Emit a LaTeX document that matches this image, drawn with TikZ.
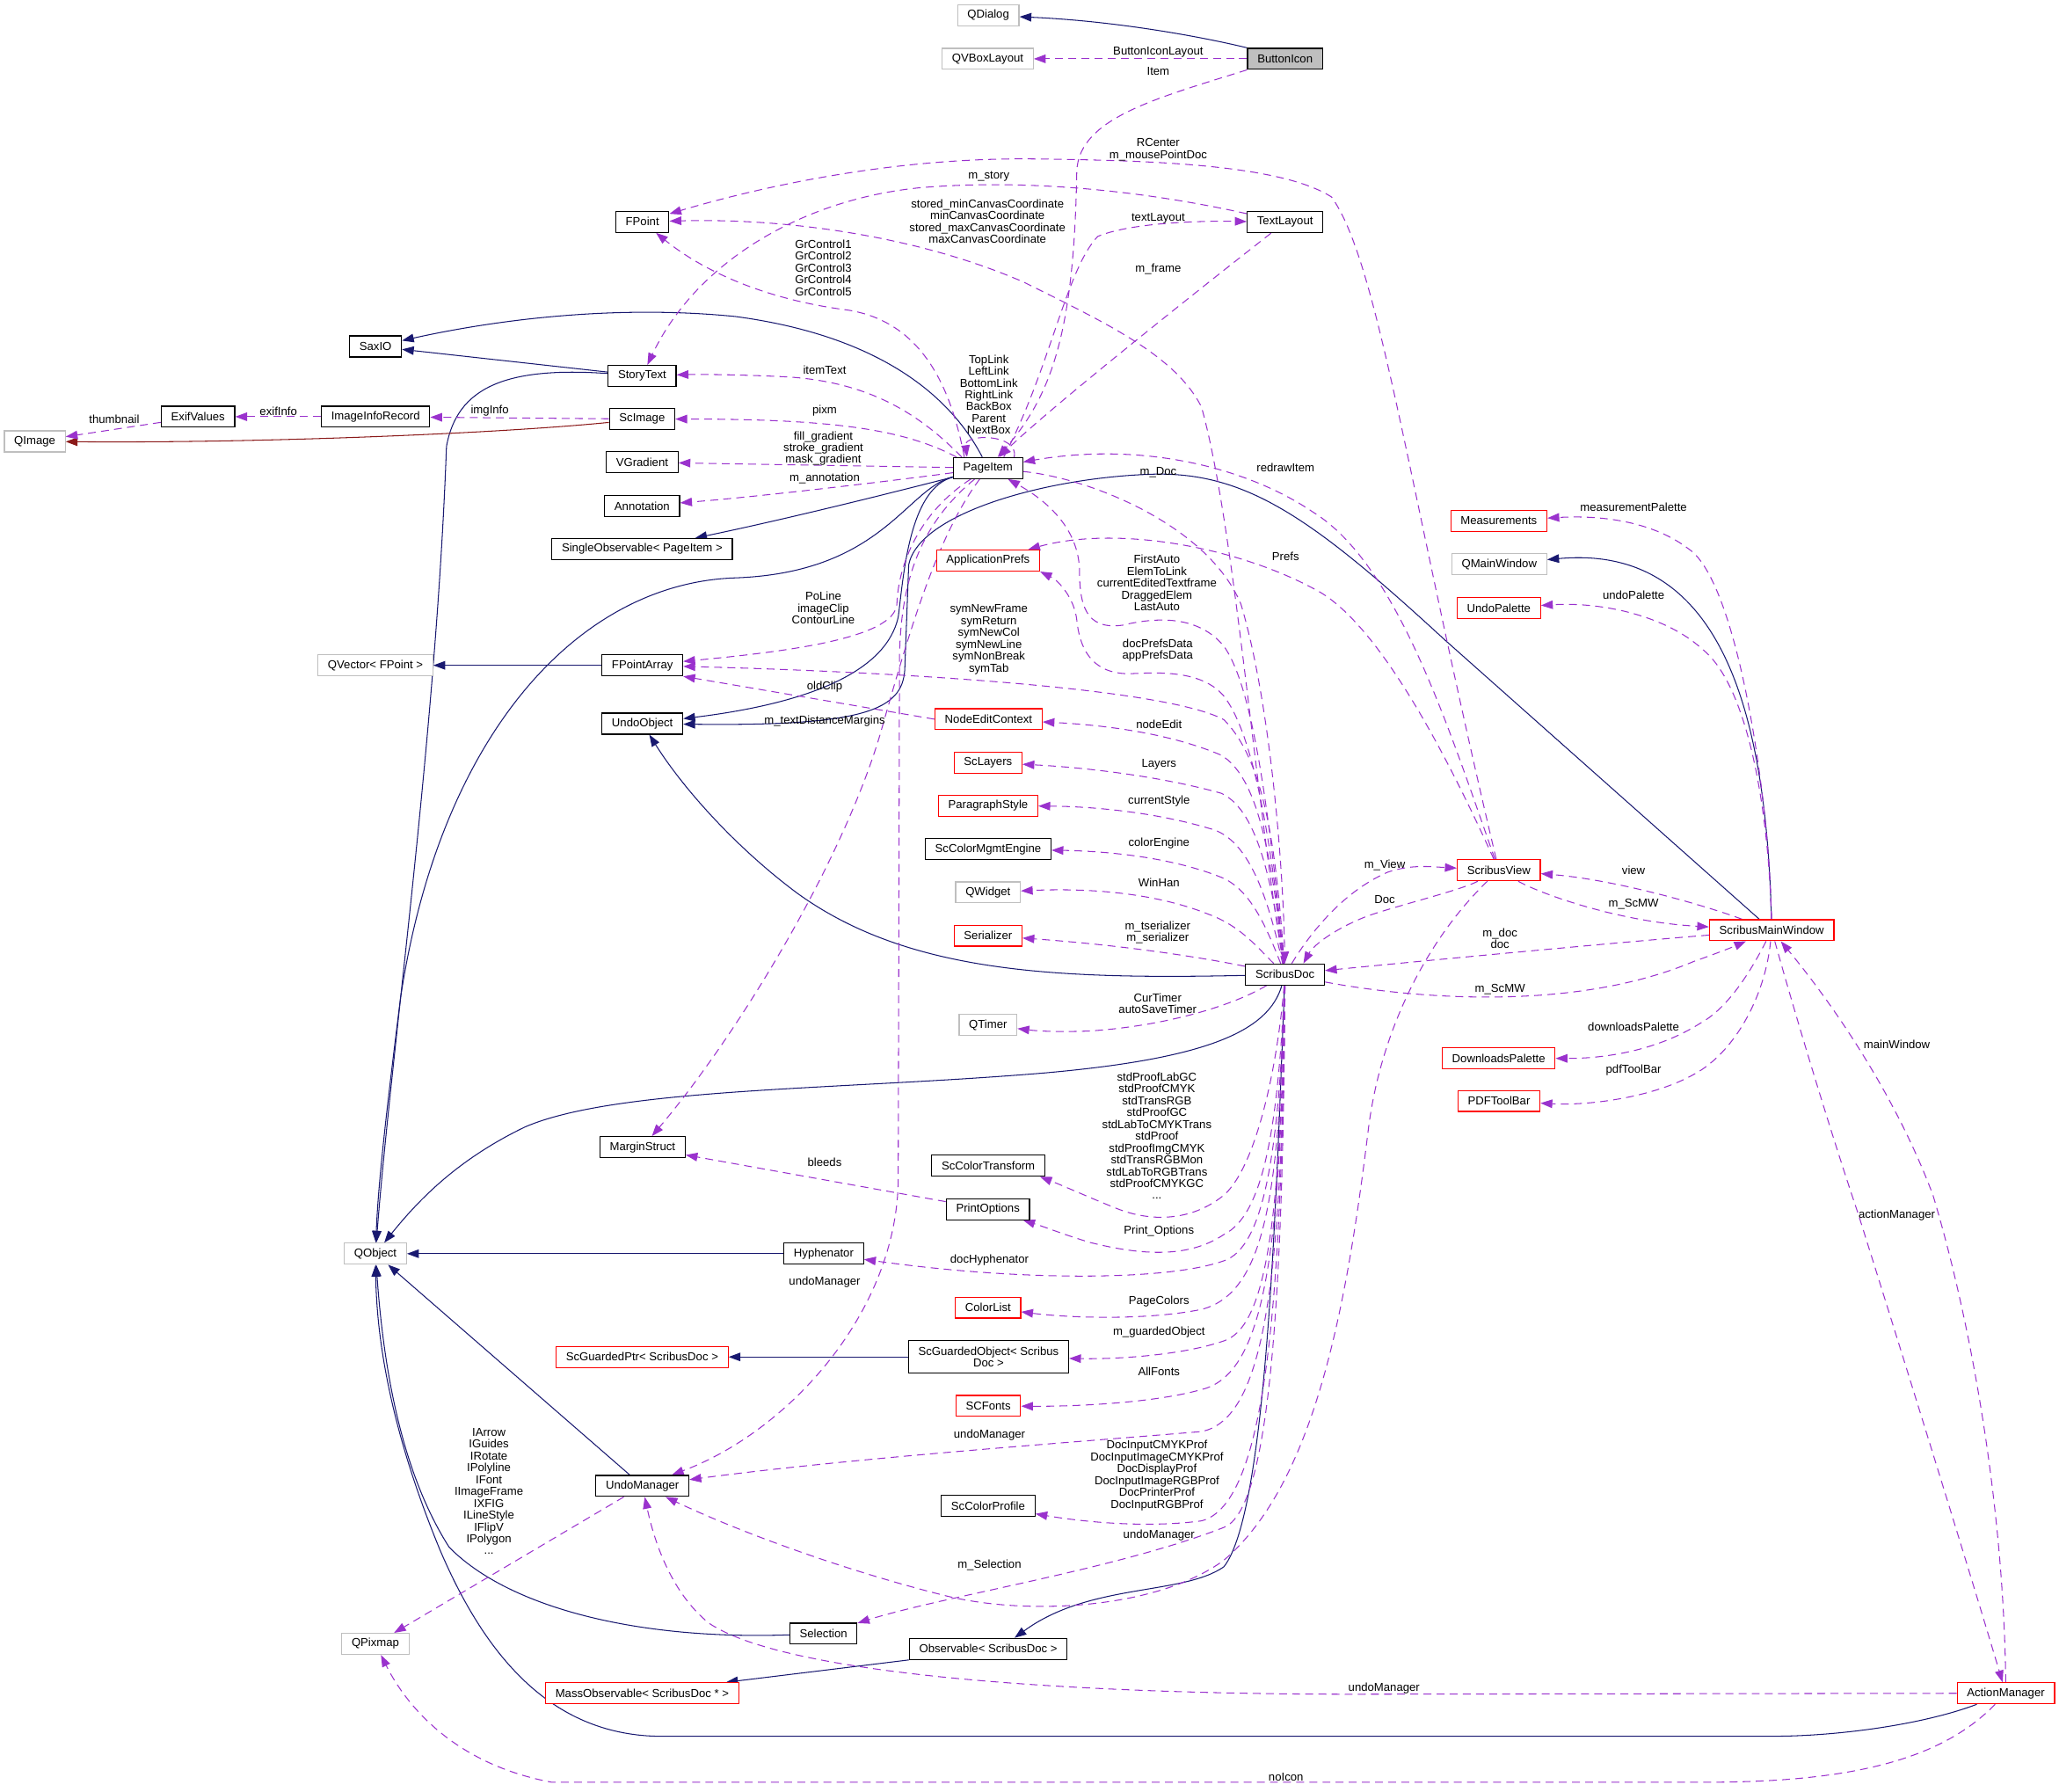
\documentclass[tikz,border=0pt]{standalone}
\usepackage{fontspec}
\setmainfont{Liberation Sans}
\usetikzlibrary{arrows.meta,backgrounds}
\definecolor{edgeblue}{HTML}{191970}
\definecolor{edgepurple}{HTML}{9A32CD}
\definecolor{edgered}{HTML}{8B1A1A}
\definecolor{boxgrey}{HTML}{BFBFBF}
\newcommand{\dxfont}{\fontsize{8.8}{9}\selectfont}
\begin{document}
\begin{tikzpicture}[x=1pt, y=-1pt, >={Triangle[length=9pt,width=6.5pt]},
  classbox/.style={draw=black, fill=white, line width=0.8pt, font=\dxfont, align=center,
    minimum height=16pt, inner xsep=7.5pt, inner ysep=2pt},
  extbox/.style={classbox, draw=boxgrey},
  redbox/.style={classbox, draw=red},
  rootbox/.style={classbox, fill=boxgrey},
  inherit/.style={->, edgeblue, line width=0.7pt},
  redinherit/.style={->, edgered, line width=0.7pt},
  member/.style={->, edgepurple, line width=0.7pt, dash pattern=on 6pt off 4pt},
  elabel/.style={font=\dxfont, align=center, inner sep=0pt}]
\useasboundingbox (0,0) rectangle (1568,1364);
%\draw [help lines] (0,0) grid[step=100] (1568,1364);
% classes
\node[extbox] (QDialog) at (752.6,11.7) {QDialog};
\node[extbox] (QVBoxLayout) at (752.2,44.8) {QVBoxLayout};
\node[rootbox] (ButtonIcon) at (978.6,44.8) {ButtonIcon};
\node[classbox] (FPoint) at (489.2,168.9) {FPoint};
\node[classbox] (TextLayout) at (978.6,169.2) {TextLayout};
\node[classbox] (SaxIO) at (286,263.8) {SaxIO};
\node[classbox] (StoryText) at (489,286.2) {StoryText};
\node[extbox] (QImage) at (26.5,336.1) {QImage};
\node[classbox] (ExifValues) at (150.8,317.3) {ExifValues};
\node[classbox] (ImageInfoRecord) at (286,317.3) {ImageInfoRecord};
\node[classbox] (ScImage) at (489,319.1) {ScImage};
\node[classbox] (VGradient) at (489,352) {VGradient};
\node[classbox] (Annotation) at (489,385.2) {Annotation};
\node[classbox] (SingleObs) at (489,418.1) {SingleObservable< PageItem >};
\node[classbox] (PageItem) at (752.4,356.4) {PageItem};
\node[redbox] (AppPrefs) at (752.4,426.8) {ApplicationPrefs};
\node[extbox] (QVector) at (285.9,506.6) {QVector< FPoint >};
\node[classbox] (FPointArray) at (489.2,506.6) {FPointArray};
\node[classbox] (UndoObject) at (489.2,551) {UndoObject};
\node[redbox] (NodeEdit) at (752.8,547.6) {NodeEditContext};
\node[redbox] (ScLayers) at (752.4,580.6) {ScLayers};
\node[redbox] (ParaStyle) at (752.5,613.5) {ParagraphStyle};
\node[classbox] (ColorEngine) at (752.5,646.6) {ScColorMgmtEngine};
\node[extbox] (QWidget) at (752.4,679.5) {QWidget};
\node[redbox] (Serializer) at (752.4,712.4) {Serializer};
\node[classbox] (ScribusDoc) at (978.6,742) {ScribusDoc};
\node[extbox] (QTimer) at (752.4,780.5) {QTimer};
\node[classbox] (MarginStruct) at (489.3,873.5) {MarginStruct};
\node[classbox] (ColorTransform) at (752.6,887.6) {ScColorTransform};
\node[classbox] (PrintOptions) at (752.3,920.7) {PrintOptions};
\node[extbox] (QObject) at (285.9,954.6) {QObject};
\node[classbox] (Hyphenator) at (627.3,954.6) {Hyphenator};
\node[redbox] (ColorList) at (752.4,995.6) {ColorList};
\node[redbox] (GuardedPtr) at (489,1033.2) {ScGuardedPtr< ScribusDoc >};
\node[classbox, minimum height=25pt] (GuardedObj) at (752.8,1033.2) {ScGuardedObject< Scribus\\Doc >};
\node[redbox] (SCFonts) at (752.6,1070.5) {SCFonts};
\node[classbox] (UndoManager) at (489.2,1131.4) {UndoManager};
\node[classbox] (ColorProfile) at (752.5,1146.5) {ScColorProfile};
\node[extbox] (QPixmap) at (285.9,1251.7) {QPixmap};
\node[classbox] (Selection) at (627.1,1243.9) {Selection};
\node[classbox] (Observable) at (752.6,1255.5) {Observable< ScribusDoc >};
\node[redbox] (MassObs) at (489,1289.3) {MassObservable< ScribusDoc * >};
\node[redbox] (ScribusView) at (1141.4,662.6) {ScribusView};
\node[redbox] (MainWindow) at (1349.2,708.3) {ScribusMainWindow};
\node[redbox] (Measurements) at (1141.4,396.6) {Measurements};
\node[extbox] (QMainWindow) at (1141.7,429.5) {QMainWindow};
\node[redbox] (UndoPalette) at (1141.4,463) {UndoPalette};
\node[redbox] (Downloads) at (1141.3,805.7) {DownloadsPalette};
\node[redbox] (PDFToolBar) at (1141.5,838.3) {PDFToolBar};
\node[redbox] (ActionManager) at (1527.5,1289.3) {ActionManager};
% edge labels
\node[elabel] (lLayout) at (882,40) {ButtonIconLayout};
\node[elabel] (lItem) at (882,54) {Item};
\node[elabel] (lCenter) at (882,114) {RCenter\\m\_mousePointDoc};
\node[elabel] (lStory) at (753,134) {m\_story};
\node[elabel] (lCanvas) at (752,168.5) {stored\_minCanvasCoordinate\\minCanvasCoordinate\\stored\_maxCanvasCoordinate\\maxCanvasCoordinate};
\node[elabel] (lTextLayout) at (882,166) {textLayout};
\node[elabel] (lFrame) at (882,205) {m\_frame};
\node[elabel] (lGrControl) at (627,204) {GrControl1\\GrControl2\\GrControl3\\GrControl4\\GrControl5};
\node[elabel] (lItemText) at (628,282) {itemText};
\node[elabel] (lLinks) at (753,300.5) {TopLink\\LeftLink\\BottomLink\\RightLink\\BackBox\\Parent\\NextBox};
\node[elabel] (lPixm) at (628,313) {pixm};
\node[elabel] (lGradient) at (627,341.5) {fill\_gradient\\stroke\_gradient\\mask\_gradient};
\node[elabel] (lAnnot) at (628,364) {m\_annotation};
\node[elabel] (lDoc) at (882,360) {m\_Doc};
\node[elabel] (lRedraw) at (979,356) {redrawItem};
\node[elabel] (lPrefs) at (979,424) {Prefs};
\node[elabel] (lAuto) at (881,444) {FirstAuto\\ElemToLink\\currentEditedTextframe\\DraggedElem\\LastAuto};
\node[elabel] (lClip) at (627,463) {PoLine\\imageClip\\ContourLine};
\node[elabel] (lSym) at (753,487) {symNewFrame\\symReturn\\symNewCol\\symNewLine\\symNonBreak\\symTab};
\node[elabel] (lPrefsData) at (881.6,495) {docPrefsData\\appPrefsData};
\node[elabel] (lOldClip) at (628,523) {oldClip};
\node[elabel] (lMargins) at (628,549) {m\_textDistanceMargins};
\node[elabel] (lNodeEdit) at (882.6,551.5) {nodeEdit};
\node[elabel] (lLayers) at (882.6,582.3) {Layers};
\node[elabel] (lStyle) at (882.6,610) {currentStyle};
\node[elabel] (lEngine) at (882.6,642.4) {colorEngine};
\node[elabel] (lWinHan) at (882.6,672) {WinHan};
\node[elabel] (lSerial) at (881.6,710) {m\_tserializer\\m\_serializer};
\node[elabel] (lTimer) at (881.6,764) {CurTimer\\autoSaveTimer};
\node[elabel] (lProof) at (881,865) {stdProofLabGC\\stdProofCMYK\\stdTransRGB\\stdProofGC\\stdLabToCMYKTrans\\stdProof\\stdProofImgCMYK\\stdTransRGBMon\\stdLabToRGBTrans\\stdProofCMYKGC\\...};
\node[elabel] (lBleeds) at (628,885) {bleeds};
\node[elabel] (lView) at (1054.5,659) {m\_View};
\node[elabel] (lDocView) at (1054.5,685) {Doc};
\node[elabel] (lViewMW) at (1244,662.5) {view};
\node[elabel] (lScMWView) at (1244,688.5) {m\_ScMW};
\node[elabel] (lDocMW) at (1142.3,714.5) {m\_doc\\doc};
\node[elabel] (lScMWDoc) at (1142.3,753.6) {m\_ScMW};
\node[elabel] (lDownloads) at (1244,781.7) {downloadsPalette};
\node[elabel] (lPdf) at (1244,814.6) {pdfToolBar};
\node[elabel] (lMainWin) at (1444.5,795) {mainWindow};
\node[elabel] (lMeasure) at (1244,386.5) {measurementPalette};
\node[elabel] (lUndoPal) at (1244,452.8) {undoPalette};
\node[elabel] (lActions) at (1444.5,925) {actionManager};
\node[elabel] (lPrint) at (882.6,937.2) {Print\_Options};
\node[elabel] (lHyph) at (753.5,959.7) {docHyphenator};
\node[elabel] (lUndoItem) at (628,976) {undoManager};
\node[elabel] (lColors) at (882.6,990.7) {PageColors};
\node[elabel] (lGuarded) at (882.6,1014.7) {m\_guardedObject};
\node[elabel] (lFonts) at (882.6,1044.2) {AllFonts};
\node[elabel] (lUndoDoc) at (753.5,1092.4) {undoManager};
\node[elabel] (lProf) at (881,1123.5) {DocInputCMYKProf\\DocInputImageCMYKProf\\DocDisplayProf\\DocInputImageRGBProf\\DocPrinterProf\\DocInputRGBProf};
\node[elabel] (lUndoView) at (882.6,1168.8) {undoManager};
\node[elabel] (lSelection) at (753.5,1192) {m\_Selection};
\node[elabel] (lUndoAct) at (1054,1285.6) {undoManager};
\node[elabel] (lNoIcon) at (979.3,1353) {noIcon};
\node[elabel] (lIcons) at (372.3,1135.6) {IArrow\\IGuides\\IRotate\\IPolyline\\IFont\\IImageFrame\\IXFIG\\ILineStyle\\IFlipV\\IPolygon\\...};
\node[elabel] (lThumb) at (87,319) {thumbnail};
\node[elabel] (lExif) at (212,313) {exifInfo};
\node[elabel] (lImgInfo) at (373,313) {imgInfo};
\begin{pgfonlayer}{background}
% inheritance
\draw[inherit] (ButtonIcon.north west) .. controls (915,28) and (850,16) .. (QDialog);
\draw[inherit] (PageItem) .. controls (722,298) and (665,255) .. (560,241) .. controls (470,232) and (380,243) .. (SaxIO);
\draw[inherit] (StoryText) -- (SaxIO);
\draw[inherit] (StoryText) .. controls (385,279) and (348,295) .. (340,340) .. controls (332,560) and (298,800) .. (QObject);
\draw[inherit] (PageItem) .. controls (690,372) and (672,436) .. (560,440) .. controls (440,444) and (335,560) .. (305,760) .. controls (295,840) and (288,900) .. (QObject);
\draw[inherit] (PageItem) .. controls (680,375) and (600,395) .. (SingleObs);
\draw[inherit] (PageItem) .. controls (692,372) and (688,440) .. (684,470) .. controls (675,510) and (620,535) .. (UndoObject);
\draw[inherit] (MainWindow) -- (1100,487) .. controls (1000,395) and (950,360) .. (880,361) .. controls (800,363) and (700,390) .. (692,430) -- (689,510) .. controls (687,540) and (660,553) .. (UndoObject);
\draw[inherit] (MainWindow) .. controls (1345,540) and (1310,414) .. (QMainWindow);
\draw[inherit] (ScribusDoc) .. controls (800,746) and (690,740) .. (607,680) .. controls (560,645) and (520,600) .. (UndoObject);
\draw[inherit] (ScribusDoc) .. controls (966,785) and (920,806) .. (795,817) .. controls (640,830) and (470,828) .. (400,858) .. controls (350,882) and (320,912) .. (QObject);
\draw[inherit] (FPointArray) -- (QVector);
\draw[inherit] (Hyphenator) -- (QObject);
\draw[inherit] (UndoManager) -- (QObject);
\draw[inherit] (Selection) .. controls (480,1249) and (385,1222) .. (342,1178) .. controls (305,1120) and (292,1040) .. (QObject);
\draw[inherit] (ActionManager) .. controls (1465,1313) and (1400,1322) .. (1350,1322) -- (500,1322) .. controls (420,1320) and (370,1262) .. (335,1180) .. controls (302,1100) and (287,1030) .. (QObject);
\draw[inherit] (GuardedObj) -- (GuardedPtr);
\draw[inherit] (ScribusDoc) .. controls (972,900) and (966,1150) .. (932,1193) .. controls (900,1215) and (830,1205) .. ([xshift=20pt]Observable.north);
\draw[inherit] (Observable.south west) -- ([xshift=-10pt]MassObs.north east);
\draw[redinherit] (ScImage) .. controls (380,330) and (200,337.5) .. (QImage);
% members
\draw[member] (ButtonIcon) -- (QVBoxLayout);
\draw[member] (ButtonIcon.south west) .. controls (880,75) and (822,90) .. (820,130) .. controls (818,250) and (802,300) .. (PageItem);
\draw[member] (ScribusView) .. controls (1072,370) and (1050,200) .. (1014,150) .. controls (975,125) and (875,122) .. (785,121) .. controls (680,120) and (580,142) .. (FPoint);
\draw[member] (ScribusDoc) .. controls (955,600) and (940,400) .. (915,310) .. controls (895,270) and (840,245) .. (780,215) .. controls (700,180) and (600,166) .. (FPoint);
\draw[member] ([xshift=-18pt]PageItem.north) .. controls (725,300) and (705,245) .. (645,236) .. controls (590,229) and (540,210) .. (FPoint);
\draw[member] (TextLayout) .. controls (870,145) and (780,136) .. (700,143) .. controls (610,152) and (530,200) .. (StoryText);
\draw[member] ([xshift=12pt]PageItem.north) .. controls (800,280) and (812,205) .. (836,180) .. controls (860,170) and (910,168) .. (TextLayout);
\draw[member] (TextLayout) .. controls (920,215) and (800,310) .. (PageItem);
\draw[member] ([xshift=20pt]PageItem.north) .. controls (776,330) and (734,330) .. ([xshift=-16pt]PageItem.north);
\draw[member] ([xshift=-20pt]PageItem.north) .. controls (700,315) and (662,291) .. (600,287) .. controls (560,285) and (530,285) .. (StoryText);
\draw[member] ([xshift=-24pt]PageItem.north) .. controls (690,328) and (640,319) .. (ScImage);
\draw[member] (PageItem) -- (VGradient);
\draw[member] (PageItem) .. controls (680,366) and (580,378) .. (Annotation);
\draw[member] (PageItem) .. controls (700,390) and (684,430) .. (683,460) .. controls (681,486) and (600,496) .. (FPointArray);
\draw[member] (ScribusDoc) .. controls (972,650) and (964,580) .. (932,548) .. controls (890,525) and (700,512) .. (FPointArray);
\draw[member] (NodeEdit.west) -- (FPointArray.south east);
\draw[member] (PageItem) .. controls (712,410) and (690,490) .. (670,560) .. controls (640,660) and (560,790) .. (MarginStruct);
\draw[member] (PageItem) .. controls (702,398) and (686,440) .. (685,500) -- (684,900) .. controls (682,1000) and (600,1090) .. (UndoManager);
\draw[member] (PageItem) .. controls (830,364) and (920,400) .. (945,460) .. controls (966,530) and (977,650) .. (ScribusDoc);
\draw[member] (ScribusDoc) .. controls (965,600) and (952,520) .. (932,492) .. controls (912,468) and (880,470) .. (855,476) .. controls (826,480) and (822,460) .. (822,432) .. controls (820,400) and (795,380) .. (PageItem);
\draw[member] (ScribusDoc) .. controls (968,640) and (955,560) .. (932,530) .. controls (915,510) and (882,512) .. (860,513) .. controls (830,513) and (822,492) .. (820,472) .. controls (818,455) and (806,442) .. (AppPrefs.south east);
\draw[member] (ScribusView) .. controls (1095,560) and (1045,470) .. (1000,448) .. controls (940,416) and (850,400) .. (AppPrefs);
\draw[member] (ScribusView) .. controls (1105,560) and (1065,430) .. (1000,390) .. controls (950,356) and (870,336) .. (PageItem);
\draw[member] (ScribusDoc) .. controls (968,650) and (958,592) .. (930,575) .. controls (890,558) and (840,552) .. (NodeEdit);
\draw[member] (ScribusDoc) .. controls (968,665) and (956,616) .. (930,604) .. controls (880,590) and (820,584) .. (ScLayers);
\draw[member] (ScribusDoc) .. controls (966,685) and (952,642) .. (925,632) .. controls (880,618) and (830,614) .. (ParaStyle);
\draw[member] (ScribusDoc) .. controls (964,705) and (952,677) .. (930,668) .. controls (890,652) and (840,648) .. (ColorEngine);
\draw[member] (ScribusDoc) .. controls (958,722) and (945,705) .. (920,696) .. controls (880,680) and (830,676) .. (QWidget);
\draw[member] (ScribusDoc) .. controls (920,730) and (860,720) .. (Serializer);
\draw[member] (ScribusDoc) .. controls (940,765) and (890,781) .. (830,785) .. controls (805,786) and (790,785) .. (QTimer);
\draw[member] (ScribusDoc) .. controls (972,820) and (955,890) .. (932,910) .. controls (910,928) and (880,932) .. (850,920) .. controls (830,912) and (810,903) .. ([xshift=-4pt]ColorTransform.south east);
\draw[member] (ScribusDoc) .. controls (973,860) and (962,925) .. (932,940) .. controls (905,958) and (870,956) .. (830,946) .. controls (810,940) and (798,935) .. (PrintOptions);
\draw[member] (ScribusDoc) .. controls (974,880) and (962,950) .. (932,960) .. controls (890,975) and (780,976) .. (Hyphenator);
\draw[member] (ScribusDoc) .. controls (974,900) and (966,984) .. (915,997) .. controls (870,1006) and (810,1003) .. (ColorList);
\draw[member] (ScribusDoc) .. controls (975,920) and (966,1010) .. (932,1021) .. controls (900,1032) and (850,1035) .. (GuardedObj);
\draw[member] (ScribusDoc) .. controls (975,940) and (966,1046) .. (915,1058) .. controls (880,1068) and (820,1071) .. (SCFonts);
\draw[member] (ScribusDoc) .. controls (976,960) and (966,1080) .. (915,1090) .. controls (820,1098) and (650,1110) .. (UndoManager);
\draw[member] (ScribusDoc) .. controls (976,980) and (966,1145) .. (915,1158) .. controls (870,1164) and (820,1158) .. (ColorProfile);
\draw[member] (ScribusDoc) .. controls (977,1000) and (966,1150) .. (932,1163) .. controls (850,1195) and (720,1215) .. (Selection);
\draw[member] (ScribusView) .. controls (1090,712) and (1052,780) .. (1042,860) .. controls (1025,1000) and (1000,1130) .. (932,1188) .. controls (880,1226) and (780,1230) .. (720,1215) .. controls (640,1195) and (560,1165) .. (UndoManager);
\draw[member] (ScribusDoc) .. controls (995,715) and (1020,680) .. (1057,664) .. controls (1075,658) and (1090,660) .. (ScribusView);
\draw[member] (ScribusView) .. controls (1112,678) and (1062,690) .. (1040,698) .. controls (1015,708) and (1000,720) .. ([xshift=14pt]ScribusDoc.north);
\draw[member] (MainWindow) .. controls (1250,716) and (1100,730) .. (ScribusDoc);
\draw[member] (ScribusDoc) .. controls (1080,761) and (1200,770) .. (1290,732) .. controls (1310,725) and (1322,720) .. (MainWindow);
\draw[member] (ScribusView) .. controls (1172,680) and (1232,702) .. (MainWindow);
\draw[member] (MainWindow) .. controls (1300,690) and (1232,670) .. (ScribusView);
\draw[member] (MainWindow) .. controls (1347,600) and (1322,442) .. (1286,418) .. controls (1260,398) and (1222,392) .. (Measurements);
\draw[member] (MainWindow) .. controls (1347,620) and (1332,522) .. (1296,494) .. controls (1270,470) and (1222,458) .. (UndoPalette);
\draw[member] (MainWindow) .. controls (1332,742) and (1315,768) .. (1295,779) .. controls (1262,800) and (1222,806) .. (Downloads);
\draw[member] (MainWindow) .. controls (1344,760) and (1320,802) .. (1290,818) .. controls (1260,835) and (1212,842) .. (PDFToolBar);
\draw[member] (ActionManager) .. controls (1526,1150) and (1502,1010) .. (1472,910) .. controls (1442,830) and (1392,760) .. (MainWindow);
\draw[member] (MainWindow) .. controls (1372,790) and (1400,880) .. (1415,924) .. controls (1442,1010) and (1495,1180) .. (ActionManager);
\draw[member] (ActionManager.west) -- (1030,1290) .. controls (820,1290) and (600,1276) .. (540,1236) .. controls (515,1216) and (500,1182) .. (UndoManager);
\draw[member] (ActionManager) .. controls (1482,1336) and (1420,1357) .. (1300,1357) -- (420,1357) .. controls (340,1342) and (306,1292) .. (QPixmap);
\draw[member] (UndoManager) -- (QPixmap);
\draw[member] (ScImage) -- (ImageInfoRecord);
\draw[member] (ImageInfoRecord) -- (ExifValues);
\draw[member] (ExifValues) -- (QImage);
\draw[member] (PrintOptions) -- (MarginStruct);
\end{pgfonlayer}
\end{tikzpicture}
\end{document}
